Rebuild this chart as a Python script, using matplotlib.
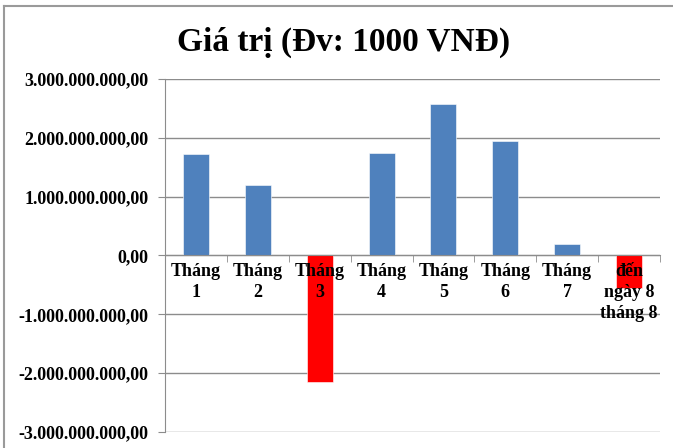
import matplotlib
matplotlib.use("Agg")
import matplotlib.pyplot as plt
from matplotlib.lines import Line2D
from matplotlib.ticker import FuncFormatter, FixedLocator
from matplotlib.transforms import offset_copy

categories = ["Tháng\n1", "Tháng\n2", "Tháng\n3", "Tháng\n4", "Tháng\n5",
              "Tháng\n6", "Tháng\n7", "đến\nngày 8\ntháng 8"]
values = [1.73e9, 1.20e9, -2.15e9, 1.74e9, 2.57e9, 1.95e9, 0.20e9, -0.55e9]
title = "Giá trị (Đv: 1000 VNĐ)"
y_ticks = [-3e9, -2e9, -1e9, 0, 1e9, 2e9, 3e9]

pos_color = "#4F81BD"
neg_color = "#FF0000"
grid_color = "#8C8C8C"
serif = ["Liberation Serif", "DejaVu Serif"]

fig = plt.figure(figsize=(6.73, 4.48), dpi=100)
ax = fig.add_axes([165/673, 1-432/448, (660-165)/673, (432-79)/448])

x = list(range(len(values)))
colors = [pos_color if v >= 0 else neg_color for v in values]
ax.bar(x, values, width=0.42, color=colors, zorder=2,
       edgecolor="white", linewidth=0.4)

ax.set_xlim(-0.5, len(values) - 0.5)
ax.set_ylim(-3e9, 3e9)

def fmt(v, pos):
    s = f"{abs(v):,.2f}"
    s = s.replace(",", "X").replace(".", ",").replace("X", ".")
    return ("-" if v < 0 else "") + s

ax.yaxis.set_major_locator(FixedLocator(y_ticks))
ax.yaxis.set_major_formatter(FuncFormatter(fmt))
ax.grid(axis="y", color=grid_color, linewidth=1.0, zorder=0)
ax.set_axisbelow(True)

for side in ["top", "right"]:
    ax.spines[side].set_visible(False)
ax.spines["left"].set_color(grid_color)
ax.spines["bottom"].set_color(grid_color)
ax.spines["bottom"].set_position(("data", 0))
ax.spines["bottom"].set_zorder(3)

ax.set_xticks(x)
ax.set_xticklabels([""] * len(x))
ax.set_xticks([i - 0.5 for i in range(len(values) + 1)], minor=True)
ax.tick_params(axis="x", which="major", length=0)
ax.tick_params(axis="x", which="minor", length=5, color=grid_color, direction="out")
ax.tick_params(axis="y", length=5, color=grid_color, pad=7)
for lbl in ax.get_yticklabels():
    lbl.set_fontfamily(serif)
    lbl.set_fontweight("bold")
    lbl.set_fontsize(13)

# category labels drawn above the bars
lbl_tr = offset_copy(ax.transData, fig=fig, x=0, y=-8, units="dots")
for i, c in enumerate(categories):
    ax.text(i, 0, c, transform=lbl_tr, ha="center", va="top",
            fontfamily=serif, fontweight="bold", fontsize=13,
            linespacing=1.3, zorder=5)

fig.text(344/673, 1 - 51/448, title, ha="center", va="baseline",
         fontfamily=serif, fontweight="bold", fontsize=24)

# outer chart border (cropped at right/bottom)
fig.add_artist(Line2D([4/673, 4/673], [0, 1 - 6/448], transform=fig.transFigure,
                      color="#9A9A9A", linewidth=1.5))
fig.add_artist(Line2D([4/673, 1], [1 - 6/448, 1 - 6/448], transform=fig.transFigure,
                      color="#9A9A9A", linewidth=1.5))

fig.savefig("out.png", dpi=100)
